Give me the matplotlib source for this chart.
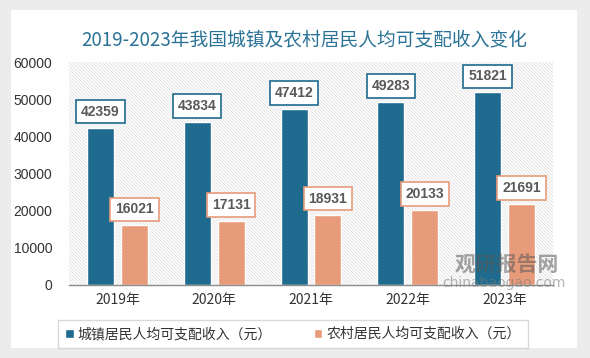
import matplotlib
matplotlib.use("Agg")
import matplotlib.pyplot as plt
import numpy as np
from matplotlib.patches import Rectangle

plt.rcParams['font.family'] = ['Noto Sans CJK SC', 'DejaVu Sans']
plt.rcParams['hatch.linewidth'] = 0.5

years = ["2019年", "2020年", "2021年", "2022年", "2023年"]
urban = [42359, 43834, 47412, 49283, 51821]
rural = [16021, 17131, 18931, 20133, 21691]
series_names = ["城镇居民人均可支配收入（元）", "农村居民人均可支配收入（元）"]
title = "2019-2023年我国城镇及农村居民人均可支配收入变化"

W, H = 590, 358
fig = plt.figure(figsize=(W/100, H/100), dpi=100)
fig.patch.set_facecolor("#ececec")
# white card
fig.patches.append(Rectangle((11/W, 1-348/H), 566/W, 338/H, transform=fig.transFigure,
                             facecolor="white", edgecolor="none", zorder=-10))

ax = fig.add_axes([69/W, 1-285/H, (553-69)/W, (285-62)/H])
ax.set_facecolor("white")
ax.add_patch(Rectangle((0, 0), 1, 1, transform=ax.transAxes, facecolor="white",
                       edgecolor="#d9d9d9", hatch="\\" * 10, linewidth=0, zorder=0))

blue = "#1e6b8f"
salmon = "#e89b7a"
x = np.arange(len(years))
w = 0.28
off = 0.175
b1 = ax.bar(x - off, urban, w, color=blue, edgecolor="white", linewidth=1, zorder=2,
            label=series_names[0])
b2 = ax.bar(x + off, rural, w, color=salmon, edgecolor="white", linewidth=1, zorder=2,
            label=series_names[1])

lab_font = ["Liberation Sans", "DejaVu Sans"]
for vals, sign, col in ((urban, -1, blue), (rural, 1, salmon)):
    for xi, v in zip(x, vals):
        ax.annotate(str(v), (xi + sign * off, v), xytext=(0, 6.5), textcoords="offset points",
                    ha="center", va="bottom", fontsize=10, fontweight="bold", color="#595959",
                    family=lab_font,
                    bbox=dict(boxstyle="square,pad=0.35", facecolor="white", edgecolor=col,
                              linewidth=1.2),
                    zorder=5)

ax.set_xlim(-0.5, len(years) - 0.5)
ax.set_ylim(0, 60000)
ax.set_yticks(np.arange(0, 60001, 10000))
ax.set_xticks(x)
ax.set_xticklabels(years, fontsize=10, color="#333333")
for t in ax.get_yticklabels():
    t.set_family(lab_font)
ax.tick_params(axis="y", labelsize=10, labelcolor="#333333", length=0, pad=12)
ax.tick_params(axis="x", length=0, pad=6)
for s in ["top", "right", "left"]:
    ax.spines[s].set_visible(False)
ax.spines["bottom"].set_color("#8c8c8c")
ax.spines["bottom"].set_linewidth(1)

fig.text(304/W, 1-40/H, title, ha="center", va="center", fontsize=13.5, color="#2a7396")

# watermark
fig.text(507/W, 1-264/H, "观研报告网", ha="center", va="center", fontsize=15, fontweight="bold",
         color="#5a5a5a", alpha=0.55, zorder=10)
fig.text(504/W, 1-283/H, "chinabaogao.com", ha="center", va="center", fontsize=10,
         color="#7a7a7a", alpha=0.55, zorder=10, family="DejaVu Sans")

leg = fig.legend(handles=[b1, b2], loc="center", bbox_to_anchor=(293/W, 1-334/H), ncol=2,
                 fontsize=10, frameon=True, fancybox=False, edgecolor="#d0d0d0",
                 handlelength=0.6, handleheight=0.6, handletextpad=0.3, columnspacing=3,
                 borderpad=0.5)
leg.get_frame().set_linewidth(1)
for t in leg.get_texts():
    t.set_color("#333333")

fig.savefig("out.png", dpi=100, facecolor=fig.get_facecolor())
